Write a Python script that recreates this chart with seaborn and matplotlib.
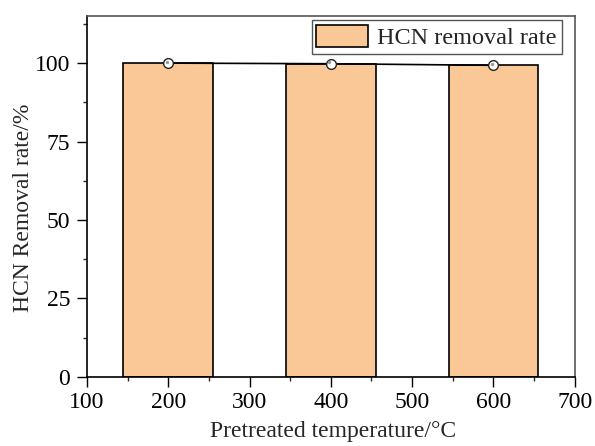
import matplotlib
matplotlib.use("Agg")
import matplotlib.pyplot as plt
from matplotlib.ticker import MultipleLocator
import seaborn as sns
import pandas as pd

temperatures = [200, 400, 600]
removal_rate = [100.0, 99.8, 99.3]
series_label = "HCN removal rate"

df = pd.DataFrame({"temp": temperatures, "rate": removal_rate})

sns.set_style("ticks")
plt.rcParams["font.family"] = ["Liberation Serif", "DejaVu Serif"]

fig = plt.figure(figsize=(5.95, 4.46), dpi=100)
ax = fig.add_axes([0.146, 0.155, 0.820, 0.809])

sns.barplot(data=df, x="temp", y="rate", native_scale=True, width=0.55,
            color="#FAC896", saturation=1, edgecolor="black", linewidth=1.2,
            label=series_label, ax=ax, zorder=2)

sns.lineplot(data=df, x="temp", y="rate", color="black", linewidth=1.2,
             marker="o", markersize=7, markerfacecolor="white",
             markeredgecolor="#222222", markeredgewidth=1.0, ax=ax, zorder=3)
ax.scatter(df["temp"] - 2, df["rate"] + 0.4, s=6, color="#9a9a9a", zorder=4,
           linewidths=0)

ax.set_xlim(100, 700)
ax.set_ylim(0, 115)
ax.xaxis.set_major_locator(MultipleLocator(100))
ax.xaxis.set_minor_locator(MultipleLocator(50))
ax.yaxis.set_minor_locator(MultipleLocator(12.5))
ax.set_yticks([0, 25, 50, 75, 100])

ax.tick_params(which="major", direction="out", length=7, width=1.0,
               labelsize=17, colors="black")
ax.tick_params(axis="x", which="major", pad=4)
ax.tick_params(axis="y", which="major", pad=5)
ax.tick_params(which="minor", direction="out", length=3, width=1.0)

for side in ["left", "bottom"]:
    ax.spines[side].set_color("black")
    ax.spines[side].set_linewidth(1.2)
for side in ["top", "right"]:
    ax.spines[side].set_visible(True)
    ax.spines[side].set_color("#555555")
    ax.spines[side].set_linewidth(1.2)

ax.set_xlabel("Pretreated temperature/°C", fontsize=17)
ax.set_ylabel("HCN Removal rate/%", fontsize=17)
ax.xaxis.set_label_coords(0.504, -0.123)
ax.yaxis.set_label_coords(-0.109, 0.468)

handles, labels = ax.get_legend_handles_labels()
bar_handles = [h for h, l in zip(handles, labels) if l == series_label][:1]
leg = ax.legend(bar_handles, [series_label], loc="upper right",
                bbox_to_anchor=(0.973, 0.989), borderaxespad=0,
                fontsize=17.5, frameon=True, fancybox=False,
                edgecolor="#555555", framealpha=1, borderpad=0.2,
                handlelength=2.1, handleheight=1.0, handletextpad=0.4)
leg.get_frame().set_linewidth(1.0)

fig.savefig("out.png", dpi=100)
